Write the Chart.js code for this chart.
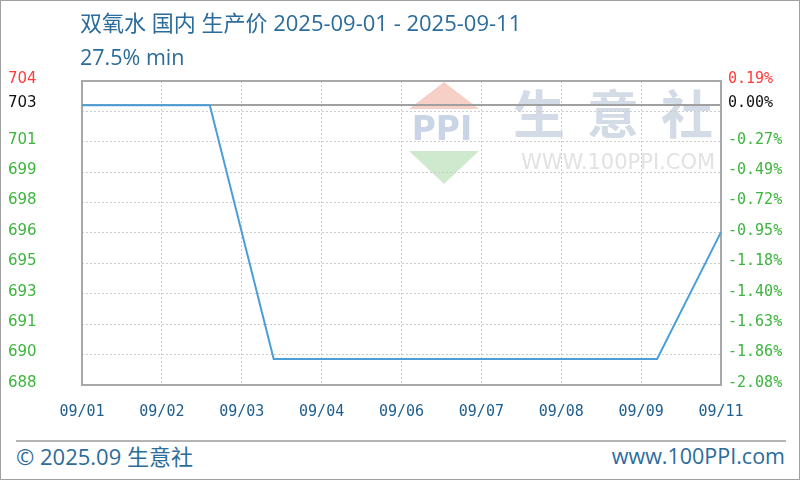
<!DOCTYPE html>
<html>
<head>
<meta charset="utf-8">
<script src="https://cdn.jsdelivr.net/npm/chart.js@4.4.1/dist/chart.umd.min.js"></script>
<style>
  html, body { margin: 0; padding: 0; background: #fff; }
  #wrap { position: relative; width: 800px; height: 480px; box-sizing: border-box; border: 1px solid #a0a0a0; overflow: hidden; }
  #chart { position: absolute; left: -1px; top: -1px; }
  .txt { position: absolute; color: #2b6c9b; font-family: "Open Sans", "Noto Sans CJK SC", sans-serif; white-space: nowrap; font-size: 22px; line-height: 30px; }
  #title { left: 79px; top: 6px; }
  #sub { left: 79px; top: 41px; font-size: 21.5px; }
  #sep { position: absolute; left: 15px; top: 439px; width: 770px; height: 2px; background: #b4b4b4; }
  #copy { left: 15px; top: 440px; }
  #site { right: 14px; top: 440px; font-size: 21.5px; }
</style>
</head>
<body>
<div id="wrap">
  <canvas id="chart" width="800" height="430"></canvas>
  <div class="txt" id="title">双氧水 国内 生产价 2025-09-01 - 2025-09-11</div>
  <div class="txt" id="sub">27.5% min</div>
  <div id="sep"></div>
  <div class="txt" id="copy">© 2025.09 生意社</div>
  <div class="txt" id="site">www.100PPI.com</div>
</div>
<script>
// ─── Data ─────────────────────────────────────────────────────
const days = ['09/01', '09/02', '09/03', '09/04', '09/05', '09/06', '09/07', '09/08', '09/09', '09/10', '09/11'];
const prices = [703, 703, 703, 689, 689, 689, 689, 689, 689, 689, 696];
const basePrice = 703;

const xLabels = ['09/01', '09/02', '09/03', '09/04', '09/06', '09/07', '09/08', '09/09', '09/11'];
// top to bottom
const leftLabels = ['704', '703', '701', '699', '698', '696', '695', '693', '691', '690', '688'];
const rightLabels = ['0.19%', '0.00%', '-0.27%', '-0.49%', '-0.72%', '-0.95%', '-1.18%', '-1.40%', '-1.63%', '-1.86%', '-2.08%'];
const yMin = 687.56;
const yMax = 704.34;

// ─── Helpers ──────────────────────────────────────────────────
const RED = '#ff3b3b', BLACK = '#111111', GREEN = '#3db53d';

function buildYTicks(scale) {
  const n = leftLabels.length - 1;
  const step = (yMax - yMin) / n;
  const ticks = [];
  for (let k = 0; k <= n; k++) {
    const pos = n - k; // index into top-to-bottom arrays
    let li = pos;
    if (pos === 1) li = -1; // gridline without label, label goes on base line
    ticks.push({ value: yMin + k * step, li: li });
    if (k === n - 1) ticks.push({ value: basePrice, li: 1, base: true });
  }
  scale.ticks = ticks;
}

function labelColor(ctx) {
  const t = ctx.tick;
  if (!t) return GREEN;
  if (t.li === 0) return RED;
  if (t.li === 1) return BLACK;
  return GREEN;
}

// watermark + plot frame
const decor = {
  id: 'decor',
  beforeDraw(chart) {
    const c = chart.ctx;
    c.save();
    // PPI logo
    c.fillStyle = '#f6cfc6';
    c.beginPath(); c.moveTo(444, 82); c.lineTo(479, 109); c.lineTo(409, 109); c.closePath(); c.fill();
    c.fillStyle = '#cfe9cf';
    c.beginPath(); c.moveTo(409, 151); c.lineTo(479, 151); c.lineTo(444, 184); c.closePath(); c.fill();
    c.fillStyle = '#c9d5e6';
    c.font = 'bold 33px "DejaVu Sans", sans-serif';
    c.textAlign = 'center'; c.textBaseline = 'middle';
    c.fillText('PPI', 442, 131);
    // 生意社
    c.fillStyle = '#d3dbe7';
    c.font = 'bold 52px "Noto Sans CJK SC", sans-serif';
    ['生', '意', '社'].forEach((ch, i) => c.fillText(ch, 539 + i * 74, 114));
    c.fillStyle = '#e2e2e2';
    c.font = '21px "DejaVu Sans", sans-serif';
    c.fillText('WWW.100PPI.COM', 618, 164);
    c.restore();
  },
  beforeDatasetsDraw(chart) {
    const a = chart.chartArea, c = chart.ctx;
    c.save();
    c.strokeStyle = '#a8a8a8';
    c.lineWidth = 2;
    c.strokeRect(a.left, a.top, a.right - a.left, a.bottom - a.top);
    c.restore();
  }
};

// ─── Chart ────────────────────────────────────────────────────
new Chart(document.getElementById('chart'), {
  type: 'line',
  data: {
    datasets: [{
      data: days.map((d, i) => ({ x: i, y: prices[i] })),
      borderColor: '#4a9fd8',
      borderWidth: 2,
      pointRadius: 0,
      tension: 0,
      fill: false,
      yAxisID: 'y'
    }]
  },
  options: {
    responsive: false,
    animation: false,
    layout: { padding: { top: 81, left: 8, right: 0, bottom: 0 } },
    plugins: { legend: { display: false }, tooltip: { enabled: false } },
    scales: {
      x: {
        type: 'linear',
        min: 0,
        max: days.length - 1,
        afterBuildTicks: s => {
          const step = (days.length - 1) / (xLabels.length - 1);
          s.ticks = xLabels.map((_, i) => ({ value: i * step }));
        },
        afterFit: s => { s.height = 430 - 385; },
        grid: { color: '#cccccc', lineWidth: 1, drawTicks: false },
        border: { display: false, dash: [2, 2] },
        ticks: {
          padding: 18,
          maxRotation: 0,
          autoSkip: false,
          color: '#1f5f8f',
          font: { family: '"DejaVu Sans Mono", monospace', size: 15 },
          callback: (v, i) => xLabels[i]
        }
      },
      y: {
        position: 'left',
        min: yMin,
        max: yMax,
        afterBuildTicks: buildYTicks,
        afterFit: s => { s.width = 74; },
        grid: {
          drawTicks: false,
          color: ctx => (ctx.tick && ctx.tick.base) ? '#a0a0a0' : '#cccccc',
          lineWidth: ctx => (ctx.tick && ctx.tick.base) ? 2 : 1
        },
        border: { display: false, dash: ctx => (ctx.tick && ctx.tick.base) ? [] : [2, 2] },
        ticks: {
          crossAlign: 'far',
          labelOffset: -2,
          autoSkip: false,
          color: labelColor,
          font: { family: '"DejaVu Sans", sans-serif', size: 15 },
          callback: (v, i, ticks) => ticks[i].li >= 0 ? leftLabels[ticks[i].li] : ''
        }
      },
      y2: {
        position: 'right',
        min: yMin,
        max: yMax,
        afterBuildTicks: buildYTicks,
        afterFit: s => { s.width = 79; },
        grid: { display: false, drawTicks: false },
        border: { display: false },
        ticks: {
          padding: 7,
          labelOffset: -2,
          autoSkip: false,
          color: labelColor,
          font: { family: '"DejaVu Sans Mono", monospace', size: 15 },
          callback: (v, i, ticks) => ticks[i].li >= 0 ? rightLabels[ticks[i].li] : ''
        }
      }
    }
  },
  plugins: [decor]
});
</script>
</body>
</html>
